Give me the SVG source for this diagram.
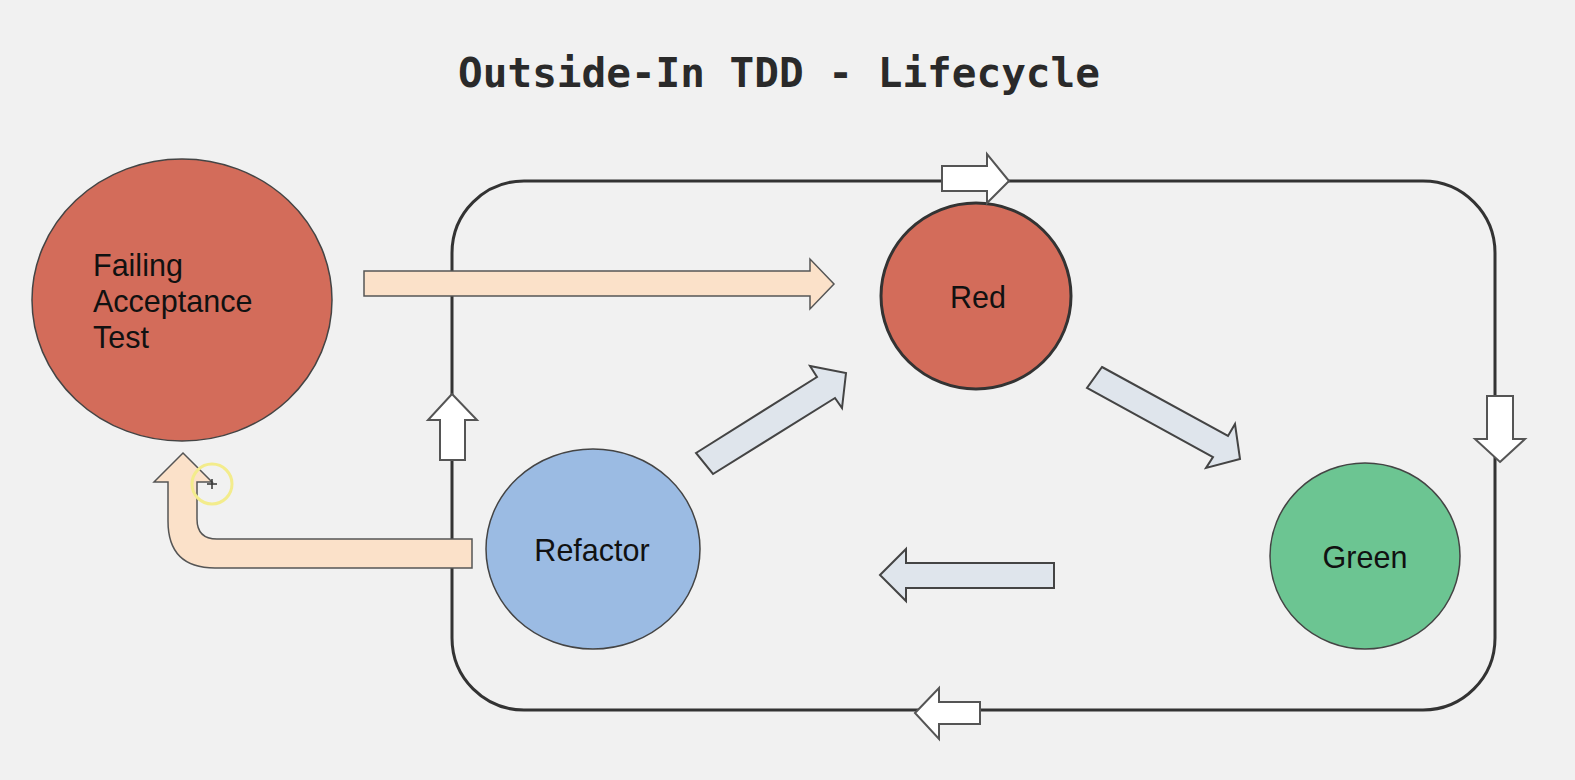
<svg xmlns="http://www.w3.org/2000/svg" width="1575" height="780" viewBox="0 0 1575 780">
<style>
.lbl{font-family:"Liberation Sans",Arial,sans-serif;font-size:30.5px;fill:#111}
.wa{fill:#ffffff;stroke:#555;stroke-width:2;stroke-linejoin:miter}
.ga{fill:#dfe5ec;stroke:#444;stroke-width:2}
.pa{fill:#fbe1c9;stroke:#555;stroke-width:1.5}
</style>
<rect width="1575" height="780" fill="#f1f1f1"/>
<text x="779" y="87" text-anchor="middle" font-family="'DejaVu Sans Mono','Liberation Mono',monospace" font-weight="bold" font-size="41" fill="#2a2a2a">Outside-In TDD - Lifecycle</text>
<g id="loop">
<rect x="452" y="181" width="1043" height="529" rx="72" ry="72" fill="none" stroke="#333" stroke-width="3"/>
</g>
<g id="failing">
<ellipse cx="182" cy="300" rx="150" ry="141" fill="#d36c5a" stroke="#444" stroke-width="1.5"/>
<text class="lbl" x="93" y="276">Failing</text>
<text class="lbl" x="93" y="312">Acceptance</text>
<text class="lbl" x="93" y="348">Test</text>
</g>
<g id="red">
<ellipse cx="976" cy="296" rx="95" ry="93" fill="#d36c5a" stroke="#333" stroke-width="3"/>
<text class="lbl" x="978" y="308" text-anchor="middle">Red</text>
</g>
<g id="refactor">
<ellipse cx="593" cy="549" rx="107" ry="100" fill="#9bbbe3" stroke="#444" stroke-width="1.5"/>
<text class="lbl" x="592" y="561" text-anchor="middle">Refactor</text>
</g>
<g id="green">
<ellipse cx="1365" cy="556" rx="95" ry="93" fill="#6cc592" stroke="#444" stroke-width="1.5"/>
<text class="lbl" x="1365" y="568" text-anchor="middle">Green</text>
</g>
<g id="connectors">
<polygon class="pa" points="364,271 810,271 810,259 834,284 810,309 810,296 364,296"/>
<path class="pa" d="M183,453 L212,482 L197,482 L197,519 Q197,539 217,539 L472,539 L472,568 L215,568 Q168,568 168,521 L168,482 L154,482 Z"/>
<polygon class="wa" points="452,394 477,420 465,420 465,460 440,460 440,420 428,420"/>
<polygon class="wa" points="1009,181 987,203 987,191 942,191 942,166 987,166 987,154"/>
<polygon class="wa" points="1500,462 1525,439 1513,439 1513,396 1487,396 1487,439 1475,439"/>
<polygon class="wa" points="915,713 939,688 939,702 980,702 980,724 939,724 939,739"/>
<polygon class="ga" points="696,453 817,377 810,366 846,373 842,408 835,398 713,474"/>
<polygon class="ga" points="1102,367 1228,436 1235,424 1240,459 1206,468 1213,457 1087,388"/>
<polygon class="ga" points="880,575 906,549 906,563 1054,563 1054,588 906,588 906,601"/>
</g>
<g id="cursor">
<circle cx="212" cy="484" r="20" fill="none" stroke="#f3ec8c" stroke-width="3"/>
<path d="M207,484 H217 M212,479 V489" stroke="#333" stroke-width="1.5"/>
</g>
</svg>
